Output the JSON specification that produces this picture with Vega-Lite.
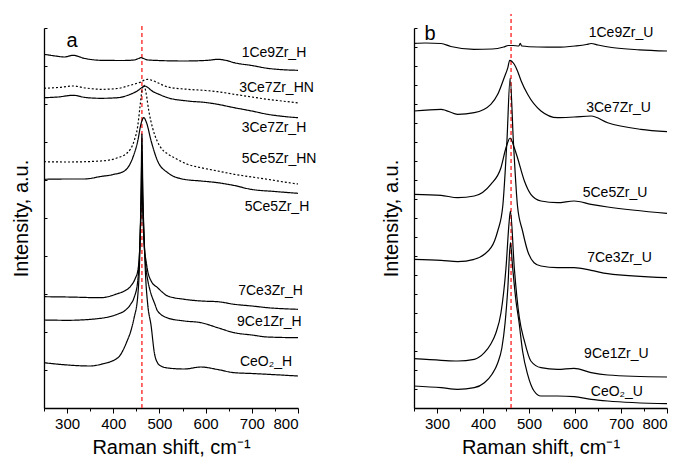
{
"$schema": "https://vega.github.io/schema/vega-lite/v6.json",
"padding": {"left": 11, "top": 13, "right": 0, "bottom": 0},
"background": "white",
"bounds": "flush",
"spacing": 116,
"config": {
  "view": {"stroke": null},
  "font": "Liberation Sans",
  "axis": {"domainColor": "black", "domainWidth": 1.3, "tickColor": "black", "tickWidth": 1, "grid": false, "labelFont": "Liberation Sans", "titleFont": "Liberation Sans", "labelColor": "black", "titleColor": "black", "titleFontWeight": "normal", "labelFontSize": 15, "titleFontSize": 20}
},
"datasets": {
"a": [
{"s":"1Ce9Zr_H","x":250,"y":353.7},{"s":"1Ce9Zr_H","x":275,"y":352},{"s":"1Ce9Zr_H","x":294,"y":351},{"s":"1Ce9Zr_H","x":313,"y":352.7},{"s":"1Ce9Zr_H","x":337,"y":349.7},{"s":"1Ce9Zr_H","x":373,"y":347.7},{"s":"1Ce9Zr_H","x":420,"y":347.5},{"s":"1Ce9Zr_H","x":445,"y":348},{"s":"1Ce9Zr_H","x":455,"y":349.5},{"s":"1Ce9Zr_H","x":460,"y":350.3},{"s":"1Ce9Zr_H","x":468,"y":349},{"s":"1Ce9Zr_H","x":475,"y":348},{"s":"1Ce9Zr_H","x":553,"y":347},{"s":"1Ce9Zr_H","x":605,"y":347.7},{"s":"1Ce9Zr_H","x":626,"y":348.7},{"s":"1Ce9Zr_H","x":645,"y":347.5},{"s":"1Ce9Zr_H","x":662,"y":345.3},{"s":"1Ce9Zr_H","x":700,"y":342.5},{"s":"1Ce9Zr_H","x":734,"y":339.7},{"s":"1Ce9Zr_H","x":770,"y":338.2},{"s":"1Ce9Zr_H","x":800,"y":337.7},
{"s":"3Ce7Zr_HN","x":250,"y":319.7},{"s":"3Ce7Zr_HN","x":280,"y":320.5},{"s":"3Ce7Zr_HN","x":313,"y":322},{"s":"3Ce7Zr_HN","x":340,"y":320},{"s":"3Ce7Zr_HN","x":373,"y":318.7},{"s":"3Ce7Zr_HN","x":410,"y":319.5},{"s":"3Ce7Zr_HN","x":431,"y":322},{"s":"3Ce7Zr_HN","x":450,"y":324.5},{"s":"3Ce7Zr_HN","x":460,"y":326},{"s":"3Ce7Zr_HN","x":468,"y":328},{"s":"3Ce7Zr_HN","x":474,"y":328.7},{"s":"3Ce7Zr_HN","x":485,"y":327.5},{"s":"3Ce7Zr_HN","x":496,"y":325.3},{"s":"3Ce7Zr_HN","x":518,"y":321},{"s":"3Ce7Zr_HN","x":561,"y":318.7},{"s":"3Ce7Zr_HN","x":600,"y":317.5},{"s":"3Ce7Zr_HN","x":626,"y":316.3},{"s":"3Ce7Zr_HN","x":662,"y":313.7},{"s":"3Ce7Zr_HN","x":700,"y":311},{"s":"3Ce7Zr_HN","x":734,"y":308.7},{"s":"3Ce7Zr_HN","x":765,"y":307},{"s":"3Ce7Zr_HN","x":800,"y":305},
{"s":"3Ce7Zr_H","x":250,"y":310.3},{"s":"3Ce7Zr_H","x":280,"y":311},{"s":"3Ce7Zr_H","x":313,"y":312.7},{"s":"3Ce7Zr_H","x":340,"y":310.5},{"s":"3Ce7Zr_H","x":373,"y":309.7},{"s":"3Ce7Zr_H","x":410,"y":310.3},{"s":"3Ce7Zr_H","x":430,"y":312.5},{"s":"3Ce7Zr_H","x":445,"y":315.3},{"s":"3Ce7Zr_H","x":455,"y":318},{"s":"3Ce7Zr_H","x":462,"y":320.5},{"s":"3Ce7Zr_H","x":468,"y":322},{"s":"3Ce7Zr_H","x":475,"y":320.5},{"s":"3Ce7Zr_H","x":482,"y":317.7},{"s":"3Ce7Zr_H","x":500,"y":313.5},{"s":"3Ce7Zr_H","x":518,"y":310.3},{"s":"3Ce7Zr_H","x":561,"y":307},{"s":"3Ce7Zr_H","x":600,"y":305.5},{"s":"3Ce7Zr_H","x":626,"y":303.7},{"s":"3Ce7Zr_H","x":662,"y":300.3},{"s":"3Ce7Zr_H","x":700,"y":297},{"s":"3Ce7Zr_H","x":734,"y":293.7},{"s":"3Ce7Zr_H","x":770,"y":291.5},{"s":"3Ce7Zr_H","x":800,"y":290.3},
{"s":"5Ce5Zr_HN","x":250,"y":246.3},{"s":"5Ce5Zr_HN","x":300,"y":246},{"s":"5Ce5Zr_HN","x":373,"y":247},{"s":"5Ce5Zr_HN","x":410,"y":250.3},{"s":"5Ce5Zr_HN","x":430,"y":255},{"s":"5Ce5Zr_HN","x":445,"y":267},{"s":"5Ce5Zr_HN","x":453,"y":282},{"s":"5Ce5Zr_HN","x":458,"y":302},{"s":"5Ce5Zr_HN","x":462,"y":317},{"s":"5Ce5Zr_HN","x":466,"y":323},{"s":"5Ce5Zr_HN","x":471,"y":315},{"s":"5Ce5Zr_HN","x":477,"y":297},{"s":"5Ce5Zr_HN","x":485,"y":280.3},{"s":"5Ce5Zr_HN","x":495,"y":267},{"s":"5Ce5Zr_HN","x":503,"y":260.3},{"s":"5Ce5Zr_HN","x":518,"y":254},{"s":"5Ce5Zr_HN","x":532,"y":250.3},{"s":"5Ce5Zr_HN","x":561,"y":243.7},{"s":"5Ce5Zr_HN","x":590,"y":240.3},{"s":"5Ce5Zr_HN","x":626,"y":237},{"s":"5Ce5Zr_HN","x":662,"y":233.7},{"s":"5Ce5Zr_HN","x":700,"y":231},{"s":"5Ce5Zr_HN","x":734,"y":228.7},{"s":"5Ce5Zr_HN","x":770,"y":226},{"s":"5Ce5Zr_HN","x":800,"y":224},
{"s":"5Ce5Zr_H","x":250,"y":228.7},{"s":"5Ce5Zr_H","x":300,"y":229},{"s":"5Ce5Zr_H","x":337,"y":229},{"s":"5Ce5Zr_H","x":373,"y":231.5},{"s":"5Ce5Zr_H","x":400,"y":233.5},{"s":"5Ce5Zr_H","x":424,"y":237},{"s":"5Ce5Zr_H","x":442,"y":250},{"s":"5Ce5Zr_H","x":453,"y":267},{"s":"5Ce5Zr_H","x":460,"y":284},{"s":"5Ce5Zr_H","x":466,"y":290.3},{"s":"5Ce5Zr_H","x":472,"y":285.3},{"s":"5Ce5Zr_H","x":482,"y":267},{"s":"5Ce5Zr_H","x":496,"y":247},{"s":"5Ce5Zr_H","x":518,"y":235.3},{"s":"5Ce5Zr_H","x":553,"y":228.7},{"s":"5Ce5Zr_H","x":590,"y":227},{"s":"5Ce5Zr_H","x":626,"y":225.3},{"s":"5Ce5Zr_H","x":662,"y":222.5},{"s":"5Ce5Zr_H","x":698,"y":218.7},{"s":"5Ce5Zr_H","x":750,"y":216.5},{"s":"5Ce5Zr_H","x":800,"y":214.7},
{"s":"7Ce3Zr_H","x":250,"y":111.3},{"s":"7Ce3Zr_H","x":301,"y":111},{"s":"7Ce3Zr_H","x":373,"y":110.3},{"s":"7Ce3Zr_H","x":409,"y":114.3},{"s":"7Ce3Zr_H","x":424,"y":117},{"s":"7Ce3Zr_H","x":438,"y":122},{"s":"7Ce3Zr_H","x":448,"y":130},{"s":"7Ce3Zr_H","x":453,"y":137},{"s":"7Ce3Zr_H","x":457,"y":157},{"s":"7Ce3Zr_H","x":460,"y":197},{"s":"7Ce3Zr_H","x":462,"y":227},{"s":"7Ce3Zr_H","x":464,"y":197},{"s":"7Ce3Zr_H","x":467,"y":162},{"s":"7Ce3Zr_H","x":471,"y":147},{"s":"7Ce3Zr_H","x":474.5,"y":137},{"s":"7Ce3Zr_H","x":482,"y":127},{"s":"7Ce3Zr_H","x":496,"y":120.3},{"s":"7Ce3Zr_H","x":518,"y":112},{"s":"7Ce3Zr_H","x":554,"y":108.7},{"s":"7Ce3Zr_H","x":590,"y":107},{"s":"7Ce3Zr_H","x":626,"y":106.3},{"s":"7Ce3Zr_H","x":662,"y":103.7},{"s":"7Ce3Zr_H","x":700,"y":102},{"s":"7Ce3Zr_H","x":734,"y":100.3},{"s":"7Ce3Zr_H","x":800,"y":98.7},
{"s":"9Ce1Zr_H","x":250,"y":88},{"s":"9Ce1Zr_H","x":301,"y":87.7},{"s":"9Ce1Zr_H","x":373,"y":89.7},{"s":"9Ce1Zr_H","x":410,"y":94},{"s":"9Ce1Zr_H","x":424,"y":97},{"s":"9Ce1Zr_H","x":438,"y":104},{"s":"9Ce1Zr_H","x":445,"y":110.3},{"s":"9Ce1Zr_H","x":453,"y":127},{"s":"9Ce1Zr_H","x":457,"y":157},{"s":"9Ce1Zr_H","x":460,"y":207},{"s":"9Ce1Zr_H","x":462,"y":252},{"s":"9Ce1Zr_H","x":464,"y":207},{"s":"9Ce1Zr_H","x":467,"y":167},{"s":"9Ce1Zr_H","x":470,"y":144},{"s":"9Ce1Zr_H","x":475,"y":127},{"s":"9Ce1Zr_H","x":480,"y":117},{"s":"9Ce1Zr_H","x":490,"y":104},{"s":"9Ce1Zr_H","x":496,"y":97},{"s":"9Ce1Zr_H","x":518,"y":90},{"s":"9Ce1Zr_H","x":554,"y":87},{"s":"9Ce1Zr_H","x":590,"y":85.3},{"s":"9Ce1Zr_H","x":626,"y":80.3},{"s":"9Ce1Zr_H","x":662,"y":75.3},{"s":"9Ce1Zr_H","x":700,"y":73},{"s":"9Ce1Zr_H","x":734,"y":71},{"s":"9Ce1Zr_H","x":800,"y":70.3},
{"s":"CeO2_H","x":250,"y":45.3},{"s":"CeO2_H","x":301,"y":43},{"s":"CeO2_H","x":350,"y":42},{"s":"CeO2_H","x":373,"y":43.7},{"s":"CeO2_H","x":410,"y":50.3},{"s":"CeO2_H","x":430,"y":67},{"s":"CeO2_H","x":438,"y":77},{"s":"CeO2_H","x":445,"y":90},{"s":"CeO2_H","x":453,"y":112},{"s":"CeO2_H","x":457,"y":147},{"s":"CeO2_H","x":460,"y":207},{"s":"CeO2_H","x":462,"y":274},{"s":"CeO2_H","x":464,"y":217},{"s":"CeO2_H","x":467,"y":167},{"s":"CeO2_H","x":470,"y":132},{"s":"CeO2_H","x":474.5,"y":104},{"s":"CeO2_H","x":482,"y":82},{"s":"CeO2_H","x":489,"y":55},{"s":"CeO2_H","x":496,"y":45},{"s":"CeO2_H","x":503,"y":42},{"s":"CeO2_H","x":518,"y":40},{"s":"CeO2_H","x":554,"y":39},{"s":"CeO2_H","x":590,"y":41},{"s":"CeO2_H","x":626,"y":38.5},{"s":"CeO2_H","x":662,"y":35.3},{"s":"CeO2_H","x":700,"y":34.5},{"s":"CeO2_H","x":734,"y":33.7},{"s":"CeO2_H","x":800,"y":32}
],
"b": [
{"s":"1Ce9Zr_U","x":250,"y":364.7},{"s":"1Ce9Zr_U","x":275,"y":365},{"s":"1Ce9Zr_U","x":309,"y":364.5},{"s":"1Ce9Zr_U","x":330,"y":361.5},{"s":"1Ce9Zr_U","x":380,"y":358.7},{"s":"1Ce9Zr_U","x":420,"y":359},{"s":"1Ce9Zr_U","x":445,"y":361},{"s":"1Ce9Zr_U","x":455,"y":362.5},{"s":"1Ce9Zr_U","x":465,"y":362.5},{"s":"1Ce9Zr_U","x":478,"y":362},{"s":"1Ce9Zr_U","x":481,"y":364.7},{"s":"1Ce9Zr_U","x":484,"y":362},{"s":"1Ce9Zr_U","x":520,"y":361},{"s":"1Ce9Zr_U","x":560,"y":360.8},{"s":"1Ce9Zr_U","x":600,"y":362},{"s":"1Ce9Zr_U","x":625,"y":363.5},{"s":"1Ce9Zr_U","x":635,"y":364.5},{"s":"1Ce9Zr_U","x":650,"y":363},{"s":"1Ce9Zr_U","x":680,"y":360.5},{"s":"1Ce9Zr_U","x":740,"y":358.2},{"s":"1Ce9Zr_U","x":800,"y":357},
{"s":"3Ce7Zr_U","x":250,"y":297},{"s":"3Ce7Zr_U","x":309,"y":298.7},{"s":"3Ce7Zr_U","x":345,"y":293.7},{"s":"3Ce7Zr_U","x":381,"y":295.3},{"s":"3Ce7Zr_U","x":417,"y":303.7},{"s":"3Ce7Zr_U","x":432,"y":313.7},{"s":"3Ce7Zr_U","x":446,"y":330.3},{"s":"3Ce7Zr_U","x":454,"y":340.3},{"s":"3Ce7Zr_U","x":458,"y":347.7},{"s":"3Ce7Zr_U","x":468,"y":343.7},{"s":"3Ce7Zr_U","x":475,"y":337},{"s":"3Ce7Zr_U","x":483,"y":327},{"s":"3Ce7Zr_U","x":497,"y":313.7},{"s":"3Ce7Zr_U","x":526,"y":297},{"s":"3Ce7Zr_U","x":562,"y":290.3},{"s":"3Ce7Zr_U","x":598,"y":291},{"s":"3Ce7Zr_U","x":635,"y":292},{"s":"3Ce7Zr_U","x":671,"y":285.3},{"s":"3Ce7Zr_U","x":743,"y":278.7},{"s":"3Ce7Zr_U","x":800,"y":276.3},
{"s":"5Ce5Zr_U","x":250,"y":213.7},{"s":"5Ce5Zr_U","x":309,"y":212.7},{"s":"5Ce5Zr_U","x":345,"y":210.3},{"s":"5Ce5Zr_U","x":381,"y":212},{"s":"5Ce5Zr_U","x":417,"y":223.7},{"s":"5Ce5Zr_U","x":439,"y":240.3},{"s":"5Ce5Zr_U","x":450,"y":260.3},{"s":"5Ce5Zr_U","x":459,"y":270},{"s":"5Ce5Zr_U","x":468,"y":260.3},{"s":"5Ce5Zr_U","x":475,"y":250.3},{"s":"5Ce5Zr_U","x":490,"y":227},{"s":"5Ce5Zr_U","x":504,"y":213.7},{"s":"5Ce5Zr_U","x":526,"y":207},{"s":"5Ce5Zr_U","x":562,"y":205.3},{"s":"5Ce5Zr_U","x":598,"y":207},{"s":"5Ce5Zr_U","x":635,"y":203.7},{"s":"5Ce5Zr_U","x":671,"y":201},{"s":"5Ce5Zr_U","x":800,"y":194.7},
{"s":"7Ce3Zr_U","x":250,"y":148.7},{"s":"7Ce3Zr_U","x":309,"y":147.7},{"s":"7Ce3Zr_U","x":345,"y":146.3},{"s":"7Ce3Zr_U","x":381,"y":148.7},{"s":"7Ce3Zr_U","x":403,"y":153.7},{"s":"7Ce3Zr_U","x":425,"y":167},{"s":"7Ce3Zr_U","x":432,"y":177},{"s":"7Ce3Zr_U","x":443,"y":202},{"s":"7Ce3Zr_U","x":452,"y":267},{"s":"7Ce3Zr_U","x":459,"y":330},{"s":"7Ce3Zr_U","x":466,"y":267},{"s":"7Ce3Zr_U","x":475,"y":202},{"s":"7Ce3Zr_U","x":486,"y":177},{"s":"7Ce3Zr_U","x":497,"y":157},{"s":"7Ce3Zr_U","x":511,"y":145.3},{"s":"7Ce3Zr_U","x":526,"y":142},{"s":"7Ce3Zr_U","x":562,"y":140.3},{"s":"7Ce3Zr_U","x":598,"y":140.3},{"s":"7Ce3Zr_U","x":635,"y":137.7},{"s":"7Ce3Zr_U","x":671,"y":134.3},{"s":"7Ce3Zr_U","x":800,"y":130.3},
{"s":"9Ce1Zr_U","x":250,"y":49.3},{"s":"9Ce1Zr_U","x":309,"y":47.7},{"s":"9Ce1Zr_U","x":345,"y":47},{"s":"9Ce1Zr_U","x":381,"y":48.7},{"s":"9Ce1Zr_U","x":403,"y":55.3},{"s":"9Ce1Zr_U","x":417,"y":64},{"s":"9Ce1Zr_U","x":428,"y":75},{"s":"9Ce1Zr_U","x":439,"y":95},{"s":"9Ce1Zr_U","x":450,"y":140.3},{"s":"9Ce1Zr_U","x":457,"y":187},{"s":"9Ce1Zr_U","x":459.6,"y":197},{"s":"9Ce1Zr_U","x":468,"y":140.3},{"s":"9Ce1Zr_U","x":479,"y":90.3},{"s":"9Ce1Zr_U","x":490,"y":67},{"s":"9Ce1Zr_U","x":504,"y":47},{"s":"9Ce1Zr_U","x":526,"y":40.3},{"s":"9Ce1Zr_U","x":562,"y":38.7},{"s":"9Ce1Zr_U","x":598,"y":39.7},{"s":"9Ce1Zr_U","x":635,"y":35.3},{"s":"9Ce1Zr_U","x":671,"y":33},{"s":"9Ce1Zr_U","x":800,"y":31},
{"s":"CeO2_U","x":250,"y":22},{"s":"CeO2_U","x":309,"y":20.3},{"s":"CeO2_U","x":345,"y":18.7},{"s":"CeO2_U","x":381,"y":20.3},{"s":"CeO2_U","x":403,"y":25.3},{"s":"CeO2_U","x":420,"y":34},{"s":"CeO2_U","x":432,"y":45},{"s":"CeO2_U","x":441,"y":60},{"s":"CeO2_U","x":448,"y":85},{"s":"CeO2_U","x":454,"y":120},{"s":"CeO2_U","x":459.6,"y":165.3},{"s":"CeO2_U","x":464.5,"y":140.3},{"s":"CeO2_U","x":471.7,"y":107},{"s":"CeO2_U","x":478,"y":87},{"s":"CeO2_U","x":486,"y":57},{"s":"CeO2_U","x":497,"y":33.7},{"s":"CeO2_U","x":511,"y":17},{"s":"CeO2_U","x":526,"y":12},{"s":"CeO2_U","x":562,"y":12},{"s":"CeO2_U","x":598,"y":11.3},{"s":"CeO2_U","x":635,"y":8.7},{"s":"CeO2_U","x":671,"y":7},{"s":"CeO2_U","x":800,"y":4.3}
],
"la": [
{"t":"1Ce9Zr_H","x":748,"y":355},{"t":"3Ce7Zr_HN","x":753.5,"y":320},{"t":"3Ce7Zr_H","x":748,"y":280},{"t":"5Ce5Zr_HN","x":759,"y":249},{"t":"5Ce5Zr_H","x":754.5,"y":201},{"t":"7Ce3Zr_H","x":740.5,"y":117},{"t":"9Ce1Zr_H","x":738,"y":86},{"t":"CeO₂_H","x":730.7,"y":46}
],
"lb": [
{"t":"1Ce9Zr_U","x":700,"y":375},{"t":"3Ce7Zr_U","x":694.6,"y":300},{"t":"5Ce5Zr_U","x":687,"y":215},{"t":"7Ce3Zr_U","x":696.7,"y":150},{"t":"9Ce1Zr_U","x":690,"y":54},{"t":"CeO₂_U","x":691,"y":16}
],
"ra": [{"x":462,"y":0,"y2":384}],
"rb": [{"x":461,"y":0,"y2":394}],
"pa": [{"t":"a","x":310.6,"y":367}],
"pb": [{"t":"b","x":284.8,"y":374}]
},
"hconcat": [
{
"width": 254, "height": 380,
"encoding": {
  "x": {"field":"x","type":"quantitative","scale":{"domain":[250,800],"nice":false,"zero":false},
        "axis":{"title":"Raman shift, cm⁻¹","values":[250,300,350,400,450,500,550,600,650,700,750,800],"labelExpr":"datum.value % 100 == 0 ? datum.label : ''","tickSize":{"condition":{"test":"datum.value % 100 == 0","value":5},"value":3},"labelPadding":3,"titlePadding":6}},
  "y": {"field":"y","type":"quantitative","scale":{"domain":[0,380],"nice":false,"zero":false},
        "axis":{"title":"Intensity, a.u.","labels":false,"values":[0,38,76,114,152,190,228,266,304,342,380],"tickSize":-3,"titlePadding":12}}
},
"layer": [
  {"data":{"name":"ra"},"mark":{"type":"rule","color":"#ff3b3b","strokeDash":[4,3],"strokeWidth":1.5},"encoding":{"y2":{"field":"y2"}}},
  {"data":{"name":"a"},"mark":{"type":"line","interpolate":"monotone","strokeWidth":1.2,"color":"black"},
   "encoding":{"detail":{"field":"s"},"strokeDash":{"field":"s","type":"nominal","legend":null,"scale":{"domain":["1Ce9Zr_H","3Ce7Zr_HN","3Ce7Zr_H","5Ce5Zr_HN","5Ce5Zr_H","7Ce3Zr_H","9Ce1Zr_H","CeO2_H"],"range":[[1,0],[2,2],[1,0],[2,2],[1,0],[1,0],[1,0],[1,0]]}}}},
  {"data":{"name":"la"},"mark":{"type":"text","fontSize":14,"color":"black","font":"Liberation Sans"},"encoding":{"text":{"field":"t"}}},
  {"data":{"name":"pa"},"mark":{"type":"text","fontSize":20,"color":"black","font":"Liberation Sans"},"encoding":{"text":{"field":"t"}}}
]
},
{
"width": 253, "height": 380,
"encoding": {
  "x": {"field":"x","type":"quantitative","scale":{"domain":[250,800],"nice":false,"zero":false},
        "axis":{"title":"Raman shift, cm⁻¹","values":[250,300,350,400,450,500,550,600,650,700,750,800],"labelExpr":"datum.value % 100 == 0 ? datum.label : ''","tickSize":{"condition":{"test":"datum.value % 100 == 0","value":5},"value":3},"labelPadding":3,"titlePadding":6}},
  "y": {"field":"y","type":"quantitative","scale":{"domain":[0,380],"nice":false,"zero":false},
        "axis":{"title":"Intensity, a.u.","labels":false,"values":[0,19,38,57,76,95,114,133,152,171,190,209,228,247,266,285,304,323,342,361,380],"tickSize":-3,"titlePadding":12}}
},
"layer": [
  {"data":{"name":"rb"},"mark":{"type":"rule","color":"#ff3b3b","strokeDash":[4,3],"strokeWidth":1.5},"encoding":{"y2":{"field":"y2"}}},
  {"data":{"name":"b"},"mark":{"type":"line","interpolate":"monotone","strokeWidth":1.2,"color":"black"},"encoding":{"detail":{"field":"s"}}},
  {"data":{"name":"lb"},"mark":{"type":"text","fontSize":14,"color":"black","font":"Liberation Sans"},"encoding":{"text":{"field":"t"}}},
  {"data":{"name":"pb"},"mark":{"type":"text","fontSize":20,"color":"black","font":"Liberation Sans"},"encoding":{"text":{"field":"t"}}}
]
}
]
}
